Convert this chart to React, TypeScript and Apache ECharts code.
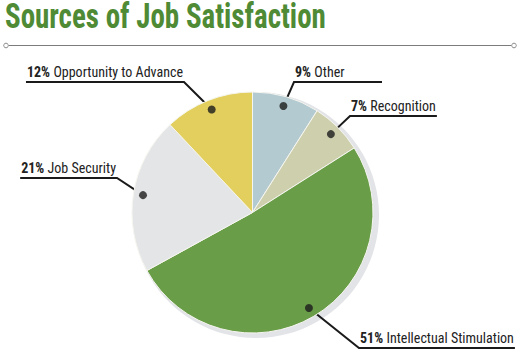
import React, { useEffect, useRef } from 'react';
import * as echarts from 'echarts';

// ---- data ----
const categories = ['Other', 'Recognition', 'Intellectual Stimulation', 'Job Security', 'Opportunity to Advance'];
const percentValues = [9, 7, 51, 21, 12];
const sliceColors = ['#b4cad1', '#cdcfad', '#6a9d48', '#e4e5e7', '#e2cf5e'];
const titleText = 'Sources of Job Satisfaction';

// ---- layout (not data) ----
const CENTER: [number, number] = [252.5, 212.5];
const RADIUS = 120.5;
const DOT_FRACTION = 0.92;
const labelAnchors = [
  { ex: 294, uy: 82, side: 'right', minLen: 88 },
  { ex: 350, uy: 116, side: 'right', minLen: 0 },
  { ex: 359, uy: 348, side: 'right', minLen: 0 },
  { ex: 117, uy: 178, side: 'left', minLen: 0 },
  { ex: 184, uy: 82, side: 'left', minLen: 0 },
];

function fontInstalled(name: string): boolean {
  const ctx = document.createElement('canvas').getContext('2d');
  if (!ctx) return false;
  const s = 'Sources of Job Satisfaction 0123456789%';
  ctx.font = '40px monospace';
  const a = ctx.measureText(s).width;
  ctx.font = `40px '${name}', monospace`;
  const b = ctx.measureText(s).width;
  return Math.abs(a - b) > 0.5;
}

function measure(font: string, text: string): number {
  const ctx = document.createElement('canvas').getContext('2d')!;
  ctx.font = font;
  return ctx.measureText(text).width;
}

function pickNarrowest(weight: string, text: string): string {
  const cands = ['Liberation Sans Narrow', 'DejaVu Sans Condensed', 'Roboto Condensed', 'Lato', 'Liberation Sans', 'Roboto'];
  let best = 'Roboto';
  let bw = Infinity;
  for (const c of cands) {
    if (!fontInstalled(c)) continue;
    const w = measure(`${weight} 14px '${c}'`, text);
    if (w < bw) {
      bw = w;
      best = c;
    }
  }
  return best;
}

export default function App() {
  const ref = useRef<HTMLDivElement>(null);
  useEffect(() => {
    document.body.style.margin = '0';
    if (!ref.current) return;
    const chart = echarts.init(ref.current, null, { renderer: 'svg' });

    const sample = 'Opportunity to Advance';
    const labelFontName = pickNarrowest('normal', sample);
    const fam = `'${labelFontName}', sans-serif`;
    const fullW = measure(`bold 14px ${fam}`, '12%') + measure(`14px ${fam}`, ' ' + sample);
    const labelSize = Math.min(14, Math.round((14 * 155) / fullW * 2) / 2);

    const titleFontName = pickNarrowest('bold', titleText);
    const titleSize = 28;
    const titleScaleY = 35 / titleSize;
    const titleFont = `bold ${titleSize}px '${titleFontName}', sans-serif`;
    const titleScaleX = 321 / measure(titleFont, titleText);

    const total = percentValues.reduce((a, b) => a + b, 0);
    const mids: number[] = [];
    let cum = 0;
    percentValues.forEach((v) => {
      mids.push(cum + v / 2);
      cum += v;
    });
    const dotPos = mids.map((m) => {
      const th = (m / total) * Math.PI * 2;
      return [CENTER[0] + RADIUS * DOT_FRACTION * Math.sin(th), CENTER[1] - RADIUS * DOT_FRACTION * Math.cos(th)];
    });

    chart.setOption({
      animation: false,
      backgroundColor: '#ffffff',
      polar: { center: CENTER, radius: RADIUS },
      angleAxis: { type: 'value', min: 0, max: total, startAngle: 90, clockwise: true, show: false },
      radiusAxis: { type: 'value', min: 0, max: 1, show: false },
      graphic: [
        {
          type: 'text',
          x: 5,
          y: 2.5,
          scaleX: titleScaleX,
          scaleY: titleScaleY,
          style: { text: titleText, font: titleFont, fill: '#4f8a35', verticalAlign: 'top', lineHeight: 28 / titleScaleY },
        },
        { type: 'line', shape: { x1: 8.5, y1: 45.5, x2: 511.5, y2: 45.5 }, style: { stroke: '#7c7c7c', lineWidth: 1.2 } },
        { type: 'circle', shape: { cx: 6, cy: 45.5, r: 2.3 }, style: { fill: '#fff', stroke: '#8a8a8a', lineWidth: 1 } },
        { type: 'circle', shape: { cx: 514, cy: 45.5, r: 2.3 }, style: { fill: '#fff', stroke: '#8a8a8a', lineWidth: 1 } },
      ],
      series: [
        {
          type: 'pie',
          silent: true,
          z: 1,
          center: [256, 215],
          radius: 123,
          label: { show: false },
          labelLine: { show: false },
          data: [{ value: 1, itemStyle: { color: '#e3e4e8' } }],
        },
        {
          type: 'pie',
          z: 2,
          center: CENTER,
          radius: RADIUS,
          startAngle: 90,
          clockwise: true,
          avoidLabelOverlap: false,
          silent: true,
          itemStyle: { borderColor: '#f6f6f0', borderWidth: 1 },
          data: categories.map((c, i) => ({ name: c, value: percentValues[i], itemStyle: { color: sliceColors[i] } })),
          label: {
            show: true,
            position: 'outside',
            formatter: (p: any) => `{b|${p.value}%} {n|${p.name}}`,
            rich: {
              b: { fontWeight: 'bold', fontFamily: fam, fontSize: labelSize, color: '#222' },
              n: { fontFamily: fam, fontSize: labelSize, color: '#222' },
            },
          },
          labelLine: { show: true, length: 10, length2: 10, smooth: false, lineStyle: { color: '#1a1a1a', width: 2 } },
          labelLayout: (params: any) => {
            const i = params.dataIndex;
            const a = labelAnchors[i];
            const w = params.labelRect.width;
            const d = dotPos[i];
            if (a.side === 'right') {
              return {
                x: a.ex + 1,
                y: a.uy - 3,
                align: 'left',
                verticalAlign: 'bottom',
                labelLinePoints: [[d[0], d[1]], [a.ex, a.uy], [a.ex + Math.max(w + 2, a.minLen), a.uy]],
              };
            }
            return {
              x: a.ex - 1,
              y: a.uy - 3,
              align: 'right',
              verticalAlign: 'bottom',
              labelLinePoints: [[d[0], d[1]], [a.ex, a.uy], [a.ex - w - 2, a.uy]],
            };
          },
        },
        {
          type: 'scatter',
          coordinateSystem: 'polar',
          z: 10,
          silent: true,
          symbol: 'circle',
          symbolSize: 8,
          itemStyle: { color: '#1c1c1c' },
          data: mids.map((m) => [DOT_FRACTION, m]),
        },
      ],
    });
    return () => chart.dispose();
  }, []);
  return <div ref={ref} style={{ position: 'fixed', left: 0, top: 0, width: 521, height: 351 }} />;
}
